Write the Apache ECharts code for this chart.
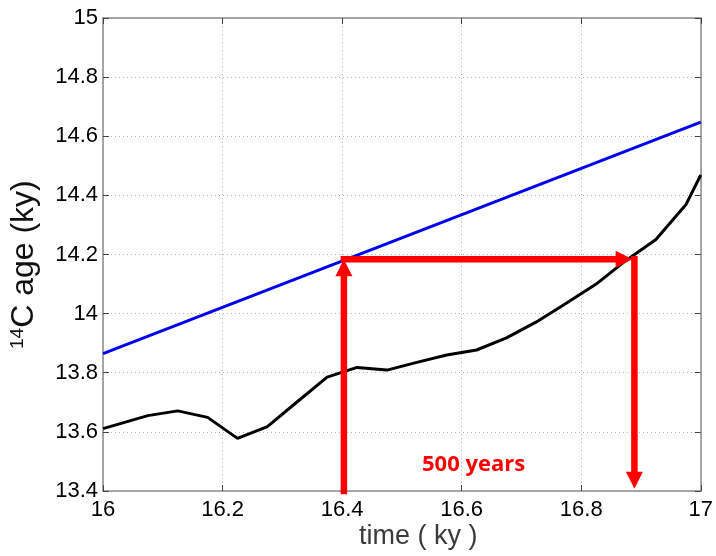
<!DOCTYPE html>
<html>
<head>
<meta charset="utf-8">
<script src="https://cdn.jsdelivr.net/npm/echarts@6/dist/echarts.min.js"></script>
<style>
  html, body { margin: 0; padding: 0; background: #fff; }
  #chart { width: 716px; height: 556px; }
</style>
</head>
<body>
<div id="chart"></div>
<script>
// Calendar time (ky) and radiocarbon age (ky)
const blueTime = [16.0, 17.0];
const blueAge = [13.865, 14.648];

const blackTime = [16.0, 16.075, 16.125, 16.175, 16.225, 16.275, 16.325, 16.375, 16.425, 16.475,
  16.525, 16.575, 16.625, 16.675, 16.725, 16.775, 16.825, 16.875, 16.925, 16.975, 17.0];
const blackAge = [13.611, 13.655, 13.671, 13.649, 13.578, 13.618, 13.702, 13.785, 13.818, 13.809,
  13.835, 13.860, 13.877, 13.918, 13.972, 14.035, 14.100, 14.180, 14.251, 14.368, 14.469];

// Arrow path: up from the axis to the blue line, across to the black line, down to the axis
const arrowFromTime = [16.403, 16.403, 16.889];
const arrowFromAge = [13.4, 14.184, 14.184];
const arrowToTime = [16.403, 16.886, 16.889];
const arrowToAge = [14.184, 14.184, 13.408];
const arrowLabel = '500 years';
const labelAt = [16.62, 13.49];

const xTicks = { min: 16, max: 17, step: 0.2 };
const yTicks = { min: 13.4, max: 15, step: 0.2 };

const pair = (xs, ys) => xs.map((x, i) => [x, ys[i]]);
const arrowData = arrowFromTime.map((t, i) => [t, arrowFromAge[i], arrowToTime[i], arrowToAge[i]]);

// Arrow: shaft plus a solid triangular head whose tip sits on the end value
function renderArrow(params, api) {
  const p0 = api.coord([api.value(0), api.value(1)]);
  const p1 = api.coord([api.value(2), api.value(3)]);
  const dx = p1[0] - p0[0], dy = p1[1] - p0[1];
  const len = Math.sqrt(dx * dx + dy * dy) || 1;
  const ux = dx / len, uy = dy / len;
  const headLen = 17, headHalf = 8.5;
  const bx = p1[0] - ux * headLen, by = p1[1] - uy * headLen;
  const red = '#ff0000';
  return {
    type: 'group',
    children: [
      {
        type: 'line',
        shape: { x1: p0[0], y1: p0[1], x2: bx + ux * 1, y2: by + uy * 1 },
        style: { stroke: red, lineWidth: 6.5, lineCap: 'square' }
      },
      {
        type: 'polygon',
        shape: { points: [[p1[0], p1[1]], [bx - uy * headHalf, by + ux * headHalf], [bx + uy * headHalf, by - ux * headHalf]] },
        style: { fill: red }
      }
    ]
  };
}

const font = 'Liberation Sans, Arial, sans-serif';
const frameColor = '#8a8a8a';
const gridLine = { show: true, lineStyle: { color: '#b4b4b4', type: [1, 3], width: 1 } };

const chart = echarts.init(document.getElementById('chart'), null, { renderer: 'canvas' });
chart.setOption({
  animation: false,
  backgroundColor: '#ffffff',
  grid: { left: 103, top: 18, width: 599, height: 473, containLabel: false },
  xAxis: [
    {
      type: 'value', min: xTicks.min, max: xTicks.max, interval: xTicks.step,
      axisLine: { show: true, lineStyle: { color: frameColor, width: 1.5 } },
      axisTick: { show: true, inside: true, length: 6, lineStyle: { color: '#444' } },
      axisLabel: { color: '#000', fontSize: 22, fontFamily: font, margin: 8 },
      splitLine: gridLine
    },
    {
      type: 'value', position: 'top', min: xTicks.min, max: xTicks.max, interval: xTicks.step,
      axisLine: { show: true, onZero: false, lineStyle: { color: frameColor, width: 1.5 } },
      axisTick: { show: true, inside: true, length: 6, lineStyle: { color: '#444' } },
      axisLabel: { show: false }, splitLine: { show: false }
    }
  ],
  yAxis: [
    {
      type: 'value', min: yTicks.min, max: yTicks.max, interval: yTicks.step,
      axisLine: { show: true, lineStyle: { color: frameColor, width: 1.5 } },
      axisTick: { show: true, inside: true, length: 6, lineStyle: { color: '#444' } },
      axisLabel: { color: '#000', fontSize: 22, fontFamily: font, margin: 5 },
      splitLine: gridLine
    },
    {
      type: 'value', position: 'right', min: yTicks.min, max: yTicks.max, interval: yTicks.step,
      axisLine: { show: true, onZero: false, lineStyle: { color: frameColor, width: 1.5 } },
      axisTick: { show: true, inside: true, length: 6, lineStyle: { color: '#444' } },
      axisLabel: { show: false }, splitLine: { show: false }
    }
  ],
  series: [
    {
      type: 'line', data: pair(blueTime, blueAge), showSymbol: false,
      lineStyle: { color: '#0000ee', width: 3 }, z: 3
    },
    {
      type: 'line', data: pair(blackTime, blackAge), showSymbol: false,
      lineStyle: { color: '#000', width: 3 }, z: 3
    },
    {
      type: 'custom', data: arrowData, renderItem: renderArrow,
      encode: { x: [0, 2], y: [1, 3] }, clip: false, silent: true, z: 5
    }
  ]
});

// Axis titles and the annotation, placed through the chart's own coordinate conversion
const labelPx = chart.convertToPixel({ gridIndex: 0 }, labelAt);
chart.setOption({
  graphic: [
    {
      type: 'text', left: 359, top: 523,
      style: { text: 'time ( ky )', font: '27px ' + font, fill: '#3a3a3a' }
    },
    {
      type: 'text', x: 8, y: 349, rotation: Math.PI / 2,
      style: {
        text: '{sup|14}{main|C age (ky)}',
        fill: '#111',
        rich: {
          sup: { fontSize: 19, fontFamily: font, fill: '#111', verticalAlign: 'top', padding: [0, 0, 14, 0] },
          main: { fontSize: 32, fontFamily: font, fill: '#111' }
        }
      }
    },
    {
      type: 'text', x: labelPx[0], y: labelPx[1], z: 10,
      style: {
        text: arrowLabel, fill: '#ff0000', align: 'center', verticalAlign: 'middle',
        font: 'bold 22px "Open Sans", sans-serif'
      }
    }
  ]
});
</script>
</body>
</html>
